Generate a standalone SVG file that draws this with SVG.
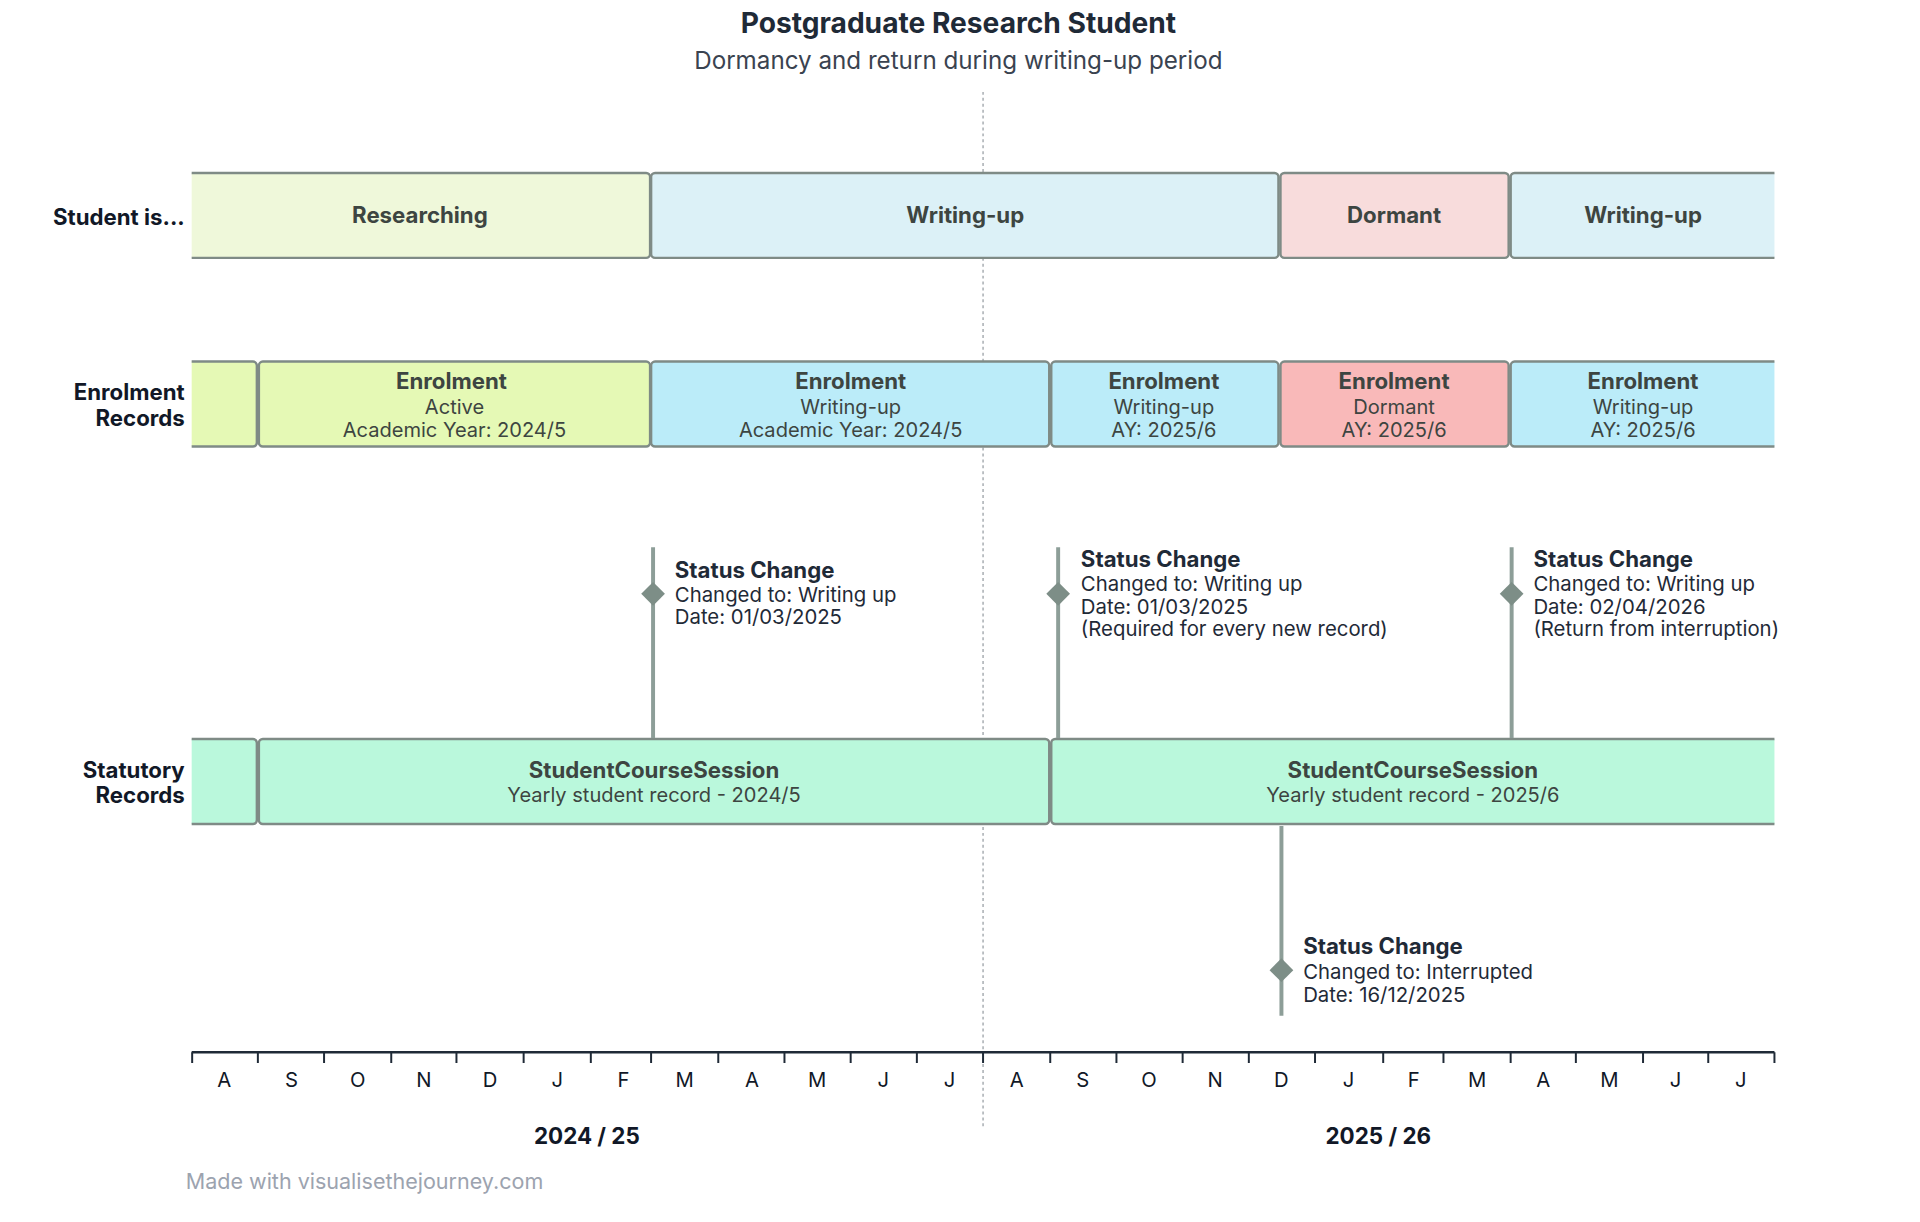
<svg xmlns="http://www.w3.org/2000/svg" width="1920" height="1222" viewBox="0 0 1920 1222">
<style>
text{font-family:Inter,"Noto Sans","Liberation Sans",sans-serif;fill:#1f2a37}
.t{font-size:28.5px;font-weight:700;text-anchor:middle}
.st{font-size:24.5px;text-anchor:middle;fill:#3a4350}
.rl{font-size:22.5px;font-weight:700;text-anchor:end;fill:#111827}
.bx{stroke:#7f8b86;stroke-width:2.5}
.bt{font-size:22.5px;font-weight:700;text-anchor:middle;fill:#3d4541}
.bs{font-size:20.3px;text-anchor:middle;fill:#3d4541}
.sh{font-size:22.5px;font-weight:700;fill:#1f2a37}
.ss{font-size:20.6px;fill:#1f2a37}
.ln{stroke:#8d9e98;stroke-width:4}
.dm{fill:#7d8e87}
.mo{font-size:20.5px;text-anchor:middle;fill:#111827}
.yr{font-size:22.7px;font-weight:700;text-anchor:middle;fill:#111827}
</style>
<defs><clipPath id="c"><rect x="194" y="0" width="1602" height="1222"/></clipPath></defs>
<g transform="scale(0.988)">
<text class="t" x="970" y="33">Postgraduate Research Student</text>
<text class="st" x="970" y="70">Dormancy and return during writing-up period</text>
<line x1="995" y1="93" x2="995" y2="1140" stroke="#9aa0a6" stroke-width="1.3" stroke-dasharray="3,3"/>
<text class="rl" x="187" y="228">Student is...</text>
<text class="rl" x="187" y="405">Enrolment</text>
<text class="rl" x="187" y="431">Records</text>
<text class="rl" x="187" y="787">Statutory</text>
<text class="rl" x="187" y="813">Records</text>
<g clip-path="url(#c)">
<g id="s1"><rect class="bx" x="180" y="175" width="478" height="86" rx="4" fill="#eff8da"/><text class="bt" x="425" y="226">Researching</text></g>
<g id="s2"><rect class="bx" x="659" y="175" width="635" height="86" rx="4" fill="#dcf1f7"/><text class="bt" x="977" y="226">Writing-up</text></g>
<g id="s3"><rect class="bx" x="1296" y="175" width="231" height="86" rx="4" fill="#f8dcdc"/><text class="bt" x="1411" y="226">Dormant</text></g>
<g id="s4"><rect class="bx" x="1529" y="175" width="285" height="86" rx="4" fill="#dcf1f7"/><text class="bt" x="1663" y="226">Writing-up</text></g>
<g id="e0"><rect class="bx" x="180" y="366" width="80" height="86" rx="4" fill="#e5f9b5"/></g>
<g id="e1"><rect class="bx" x="262" y="366" width="396" height="86" rx="4" fill="#e5f9b5"/><text class="bt" x="457" y="394">Enrolment</text><text class="bs" x="460" y="419">Active</text><text class="bs" x="460" y="442">Academic Year: 2024/5</text></g>
<g id="e2"><rect class="bx" x="659" y="366" width="403" height="86" rx="4" fill="#bbecf9"/><text class="bt" x="861" y="394">Enrolment</text><text class="bs" x="861" y="419">Writing-up</text><text class="bs" x="861" y="442">Academic Year: 2024/5</text></g>
<g id="e3"><rect class="bx" x="1064" y="366" width="230" height="86" rx="4" fill="#bbecf9"/><text class="bt" x="1178" y="394">Enrolment</text><text class="bs" x="1178" y="419">Writing-up</text><text class="bs" x="1178" y="442">AY: 2025/6</text></g>
<g id="e4"><rect class="bx" x="1296" y="366" width="231" height="86" rx="4" fill="#f9b9b9"/><text class="bt" x="1411" y="394">Enrolment</text><text class="bs" x="1411" y="419">Dormant</text><text class="bs" x="1411" y="442">AY: 2025/6</text></g>
<g id="e5"><rect class="bx" x="1529" y="366" width="285" height="86" rx="4" fill="#bbecf9"/><text class="bt" x="1663" y="394">Enrolment</text><text class="bs" x="1663" y="419">Writing-up</text><text class="bs" x="1663" y="442">AY: 2025/6</text></g>
<g id="r0"><rect class="bx" x="180" y="748" width="80" height="86" rx="4" fill="#baf8dc"/></g>
<g id="r1"><rect class="bx" x="262" y="748" width="800" height="86" rx="4" fill="#baf8dc"/><text class="bt" x="662" y="787">StudentCourseSession</text><text class="bs" x="662" y="812">Yearly student record - 2024/5</text></g>
<g id="r2"><rect class="bx" x="1064" y="748" width="750" height="86" rx="4" fill="#baf8dc"/><text class="bt" x="1430" y="787">StudentCourseSession</text><text class="bs" x="1430" y="812">Yearly student record - 2025/6</text></g>
</g>
<g id="connectors">
<line class="ln" x1="661" y1="554" x2="661" y2="747"/>
<line class="ln" x1="1071" y1="554" x2="1071" y2="747"/>
<line class="ln" x1="1530" y1="554" x2="1530" y2="747"/>
<line class="ln" x1="1297" y1="836" x2="1297" y2="1028"/>
</g>
<g id="sc1"><path class="dm" d="M661 589 L673 601 L661 613 L649 601Z"/><text class="sh" x="683" y="585">Status Change</text><text class="ss" x="683" y="609">Changed to: Writing up</text><text class="ss" x="683" y="632">Date: 01/03/2025</text></g>
<g id="sc2"><path class="dm" d="M1071 589 L1083 601 L1071 613 L1059 601Z"/><text class="sh" x="1094" y="574">Status Change</text><text class="ss" x="1094" y="598">Changed to: Writing up</text><text class="ss" x="1094" y="621">Date: 01/03/2025</text><text class="ss" x="1094" y="644">(Required for every new record)</text></g>
<g id="sc3"><path class="dm" d="M1530 589 L1542 601 L1530 613 L1518 601Z"/><text class="sh" x="1552" y="574">Status Change</text><text class="ss" x="1552" y="598">Changed to: Writing up</text><text class="ss" x="1552" y="621">Date: 02/04/2026</text><text class="ss" x="1552" y="644">(Return from interruption)</text></g>
<g id="sc4"><path class="dm" d="M1297 970 L1309 982 L1297 994 L1285 982Z"/><text class="sh" x="1319" y="966">Status Change</text><text class="ss" x="1319" y="991">Changed to: Interrupted</text><text class="ss" x="1319" y="1014">Date: 16/12/2025</text></g>
<g id="axis" stroke="#1f2a37" stroke-width="2">
<line x1="194" y1="1065" x2="1796" y2="1065" stroke-width="2.5"/>
<path d="M194.5 1065v11M261 1065v11M328 1065v11M396 1065v11M462 1065v11M530 1065v11M598 1065v11M659 1065v11M727 1065v11M794 1065v11M861 1065v11M928 1065v11M995 1065v11M1063 1065v11M1130 1065v11M1197 1065v11M1264 1065v11M1331 1065v11M1400 1065v11M1461 1065v11M1529 1065v11M1595 1065v11M1663 1065v11M1729 1065v11M1796 1065v11"/>
</g>
<g>
<text class="mo" x="227" y="1100">A</text><text class="mo" x="295" y="1100">S</text><text class="mo" x="362" y="1100">O</text><text class="mo" x="429" y="1100">N</text><text class="mo" x="496" y="1100">D</text><text class="mo" x="564" y="1100">J</text><text class="mo" x="631" y="1100">F</text><text class="mo" x="693" y="1100">M</text><text class="mo" x="761" y="1100">A</text><text class="mo" x="827" y="1100">M</text><text class="mo" x="894" y="1100">J</text><text class="mo" x="961" y="1100">J</text><text class="mo" x="1029" y="1100">A</text><text class="mo" x="1096" y="1100">S</text><text class="mo" x="1163" y="1100">O</text><text class="mo" x="1230" y="1100">N</text><text class="mo" x="1297" y="1100">D</text><text class="mo" x="1365" y="1100">J</text><text class="mo" x="1431" y="1100">F</text><text class="mo" x="1495" y="1100">M</text><text class="mo" x="1562" y="1100">A</text><text class="mo" x="1629" y="1100">M</text><text class="mo" x="1696" y="1100">J</text><text class="mo" x="1762" y="1100">J</text>
</g>
<text class="yr" x="594" y="1158">2024 / 25</text>
<text class="yr" x="1395" y="1158">2025 / 26</text>
<text x="188" y="1203" style="font-size:21.8px;fill:#9ca3af">Made with visualisethejourney.com</text>
</g>
</svg>
